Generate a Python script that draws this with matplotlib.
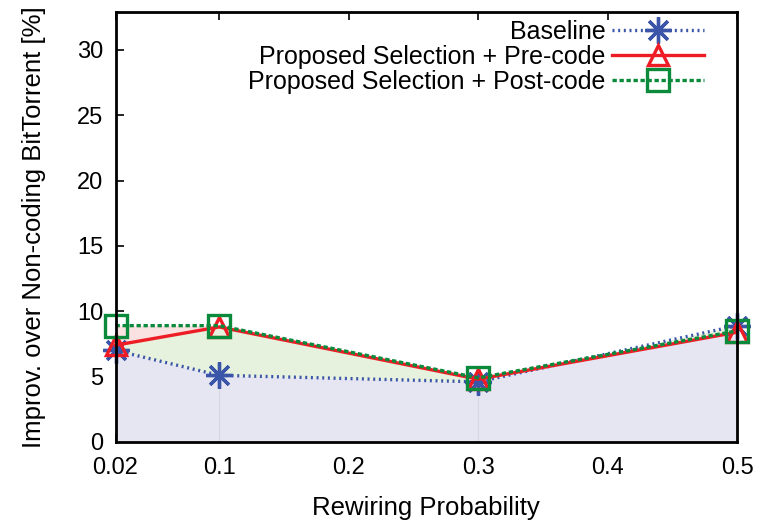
import numpy as np
import matplotlib.pyplot as plt

plt.rcParams['font.family'] = ['Liberation Sans', 'DejaVu Sans']

# data
prob = [0.02, 0.1, 0.3, 0.5]
baseline = [7.0, 5.1, 4.6, 8.9]
pre_code = [7.4, 8.8, 4.8, 8.4]
post_code = [8.9, 8.9, 4.9, 8.5]
xticks = [0.02, 0.1, 0.2, 0.3, 0.4, 0.5]
xticklabels = ['0.02', '0.1', '0.2', '0.3', '0.4', '0.5']
yticks = [0, 5, 10, 15, 20, 25, 30]

blue = '#3b55a8'
red = '#ee1d25'
green = '#0b8a3c'

fig = plt.figure(figsize=(7.6, 5.23), dpi=100)
ax = fig.add_axes([0.152, 0.155, 0.818, 0.822])

# shaded areas (drawn over the ticks like the original)
ax.fill_between(prob, 0, baseline, color='#e6e6f3', lw=0, zorder=2.6)
ax.fill_between(prob, baseline, post_code, color='#e6f2dd', lw=0, zorder=2.6)
ax.fill_between(prob, pre_code, post_code,
                where=np.array(post_code) > np.array(pre_code),
                interpolate=True, color='#fbe2e2', lw=0, zorder=2.6)
ax.vlines(prob[1:3], 0, baseline[1:3], color='#d6d6e0', lw=0.8, zorder=2.7)

ax.plot(prob, baseline, color=blue, ls=(0, (0.6, 1.1)), lw=2.4,
        marker=(8, 2, 0), ms=19, mew=2.4, mec=blue,
        label='Baseline', zorder=3, clip_on=False)
ax.plot(prob, pre_code, color=red, ls='-', lw=2.4,
        marker='^', ms=15, mew=2.4, mfc='none', mec=red,
        label='Proposed Selection + Pre-code', zorder=4, clip_on=False)
ax.plot(prob, post_code, color=green, ls=(0, (1.3, 0.8)), lw=2.4,
        marker='s', ms=16, mew=2.4, mfc='none', mec=green,
        label='Proposed Selection + Post-code', zorder=5, clip_on=False)

ax.set_xlim(0.02, 0.5)
ax.set_ylim(0, 32.9)
ax.set_xticks(xticks)
ax.set_xticklabels(xticklabels)
ax.set_yticks(yticks)
ax.tick_params(direction='in', length=6, width=1.2, labelsize=17,
               top=True, right=False)
ax.tick_params(axis='x', pad=11)
ax.tick_params(axis='y', pad=9)
for s in ax.spines.values():
    s.set_linewidth(2)
    s.set_zorder(6)

ax.set_xlabel('Rewiring Probability', fontsize=18.5, labelpad=12)
ax.set_ylabel('Improv. over Non-coding BitTorrent [%]', fontsize=18.5, labelpad=22)

ax.legend(loc='upper right', bbox_to_anchor=(0.975, 1.022), frameon=False,
          markerfirst=False, fontsize=18, handlelength=3.7,
          labelspacing=0.03, handletextpad=0.25, borderaxespad=0.3)

fig.savefig('out.png', dpi=100)
